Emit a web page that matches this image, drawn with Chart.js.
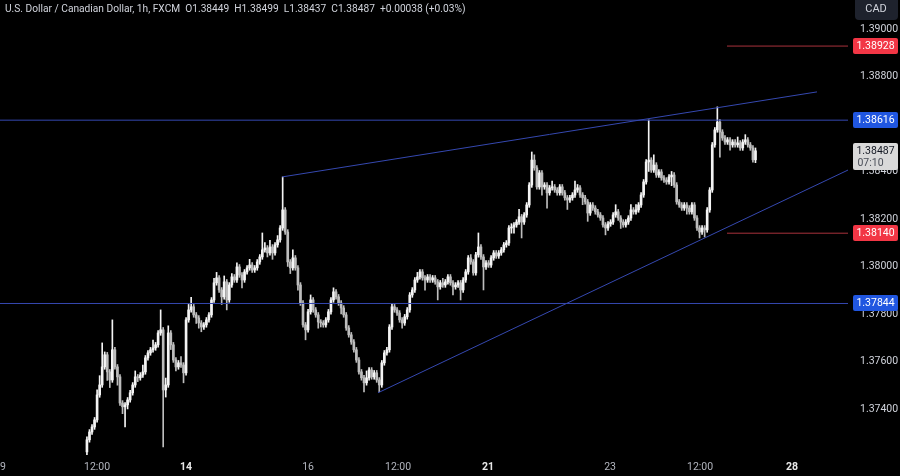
<!DOCTYPE html>
<html>
<head>
<meta charset="utf-8">
<script src="https://cdn.jsdelivr.net/npm/chart.js@4.4.1/dist/chart.umd.min.js"></script>
<style>
  html, body { margin: 0; padding: 0; background: #000; }
  #wrap { position: relative; width: 900px; height: 476px; }
  #title { position: absolute; left: 5px; top: 3px; font: 10.2px Roboto, 'Liberation Sans', sans-serif; color: #d1d4dc; white-space: pre; }
</style>
</head>
<body>
<div id="wrap">
  <canvas id="priceChart" width="900" height="476"></canvas>
  <div id="title">U.S. Dollar / Canadian Dollar, 1h, FXCM  O1.38449  H1.38499  L1.38437  C1.38487  +0.00038 (+0.03%)</div>
</div>
<script>
// hourly USD/CAD candles (x = trading hour from the "9" tick)
const firstHour = 33;

const opens = [
  1.37219, 1.37270, 1.37303, 1.37324, 1.37354, 1.37459, 1.37501, 1.37577, 1.37628, 1.37556, 1.37522, 1.37649,
  1.37577, 1.37535, 1.37425, 1.37409, 1.37417, 1.37438, 1.37468, 1.37501, 1.37535, 1.37531, 1.37543, 1.37556,
  1.37615, 1.37636, 1.37649, 1.37657, 1.37670, 1.37720, 1.37733, 1.37480, 1.37501, 1.37720, 1.37670, 1.37606,
  1.37577, 1.37594, 1.37585, 1.37552, 1.37775, 1.37817, 1.37830, 1.37796, 1.37783, 1.37762, 1.37745, 1.37754,
  1.37775, 1.37796, 1.37859, 1.37931, 1.37952, 1.37901, 1.37872, 1.37935, 1.37859, 1.37922, 1.37956, 1.37943,
  1.37998, 1.37964, 1.37943, 1.37977, 1.37994, 1.38006, 1.37985, 1.37994, 1.38019, 1.38040, 1.38070, 1.38078,
  1.38057, 1.38082, 1.38057, 1.38091, 1.38112, 1.38162, 1.38238, 1.38145, 1.38019, 1.37994, 1.38036, 1.37994,
  1.37922, 1.37846, 1.37754, 1.37733, 1.37809, 1.37859, 1.37817, 1.37796, 1.37766, 1.37762, 1.37754, 1.37775,
  1.37809, 1.37859, 1.37893, 1.37872, 1.37846, 1.37825, 1.37796, 1.37741, 1.37712, 1.37682, 1.37649, 1.37606,
  1.37556, 1.37531, 1.37510, 1.37531, 1.37564, 1.37535, 1.37552, 1.37522, 1.37501, 1.37594, 1.37636, 1.37649,
  1.37745, 1.37830, 1.37817, 1.37804, 1.37775, 1.37762, 1.37788, 1.37817, 1.37880, 1.37901, 1.37943, 1.37956,
  1.37977, 1.37952, 1.37943, 1.37956, 1.37943, 1.37952, 1.37935, 1.37914, 1.37931, 1.37922, 1.37935, 1.37956,
  1.37931, 1.37914, 1.37922, 1.37931, 1.37901, 1.37943, 1.37977, 1.38036, 1.38019, 1.37973, 1.38049, 1.38082,
  1.38040, 1.37998, 1.38015, 1.38006, 1.38036, 1.38057, 1.38044, 1.38057, 1.38070, 1.38091, 1.38099, 1.38162,
  1.38166, 1.38175, 1.38187, 1.38209, 1.38187, 1.38217, 1.38259, 1.38343, 1.38448, 1.38415, 1.38335, 1.38394,
  1.38335, 1.38343, 1.38310, 1.38331, 1.38335, 1.38322, 1.38310, 1.38335, 1.38310, 1.38289, 1.38280, 1.38289,
  1.38301, 1.38322, 1.38331, 1.38301, 1.38289, 1.38272, 1.38225, 1.38259, 1.38246, 1.38230, 1.38217, 1.38204,
  1.38175, 1.38162, 1.38179, 1.38187, 1.38217, 1.38230, 1.38204, 1.38187, 1.38175, 1.38187, 1.38204, 1.38238,
  1.38230, 1.38238, 1.38259, 1.38301, 1.38356, 1.38440, 1.38448, 1.38406, 1.38427, 1.38385, 1.38398, 1.38373,
  1.38364, 1.38356, 1.38377, 1.38385, 1.38343, 1.38272, 1.38259, 1.38246, 1.38259, 1.38246, 1.38230, 1.38259,
  1.38204, 1.38162, 1.38145, 1.38162, 1.38154, 1.38238, 1.38322, 1.38512, 1.38575, 1.38608, 1.38566, 1.38541,
  1.38524, 1.38533, 1.38512, 1.38524, 1.38512, 1.38520, 1.38499, 1.38524, 1.38533, 1.38512, 1.38499, 1.38449
];

const highs = [
  1.37282, 1.37313, 1.37334, 1.37364, 1.37480, 1.37540, 1.37678, 1.37640, 1.37638, 1.37566, 1.37775, 1.37659,
  1.37587, 1.37545, 1.37435, 1.37427, 1.37448, 1.37478, 1.37511, 1.37560, 1.37545, 1.37553, 1.37585, 1.37625,
  1.37646, 1.37659, 1.37690, 1.37680, 1.37730, 1.37817, 1.37743, 1.37530, 1.37750, 1.37730, 1.37680, 1.37616,
  1.37604, 1.37620, 1.37595, 1.37785, 1.37840, 1.37870, 1.37840, 1.37806, 1.37793, 1.37772, 1.37764, 1.37785,
  1.37806, 1.37869, 1.37950, 1.37975, 1.37962, 1.37911, 1.37960, 1.37945, 1.37932, 1.37970, 1.37966, 1.38015,
  1.38008, 1.37974, 1.37987, 1.38004, 1.38030, 1.38016, 1.38004, 1.38029, 1.38050, 1.38141, 1.38100, 1.38088,
  1.38110, 1.38092, 1.38101, 1.38130, 1.38172, 1.38377, 1.38248, 1.38155, 1.38029, 1.38070, 1.38046, 1.38004,
  1.37932, 1.37856, 1.37764, 1.37819, 1.37880, 1.37869, 1.37827, 1.37806, 1.37776, 1.37772, 1.37785, 1.37819,
  1.37869, 1.37910, 1.37903, 1.37882, 1.37856, 1.37835, 1.37806, 1.37751, 1.37722, 1.37692, 1.37659, 1.37616,
  1.37566, 1.37541, 1.37560, 1.37574, 1.37574, 1.37562, 1.37562, 1.37532, 1.37604, 1.37646, 1.37659, 1.37755,
  1.37840, 1.37840, 1.37827, 1.37814, 1.37785, 1.37798, 1.37827, 1.37890, 1.37911, 1.37953, 1.37975, 1.37987,
  1.37987, 1.37962, 1.37966, 1.37966, 1.37962, 1.37962, 1.37945, 1.37941, 1.37950, 1.37945, 1.37966, 1.37966,
  1.37941, 1.37932, 1.37941, 1.37941, 1.37953, 1.37987, 1.38046, 1.38050, 1.38029, 1.38059, 1.38141, 1.38092,
  1.38050, 1.38025, 1.38025, 1.38046, 1.38067, 1.38067, 1.38067, 1.38080, 1.38101, 1.38109, 1.38172, 1.38180,
  1.38185, 1.38197, 1.38240, 1.38219, 1.38227, 1.38269, 1.38353, 1.38482, 1.38470, 1.38425, 1.38404, 1.38404,
  1.38353, 1.38353, 1.38341, 1.38360, 1.38345, 1.38332, 1.38345, 1.38345, 1.38320, 1.38299, 1.38299, 1.38311,
  1.38360, 1.38345, 1.38341, 1.38311, 1.38299, 1.38282, 1.38269, 1.38269, 1.38256, 1.38240, 1.38227, 1.38214,
  1.38185, 1.38189, 1.38197, 1.38227, 1.38260, 1.38240, 1.38214, 1.38197, 1.38197, 1.38214, 1.38260, 1.38248,
  1.38260, 1.38269, 1.38311, 1.38366, 1.38450, 1.38617, 1.38458, 1.38470, 1.38437, 1.38408, 1.38408, 1.38383,
  1.38374, 1.38387, 1.38400, 1.38395, 1.38353, 1.38282, 1.38269, 1.38269, 1.38269, 1.38256, 1.38269, 1.38269,
  1.38214, 1.38172, 1.38172, 1.38172, 1.38248, 1.38332, 1.38522, 1.38585, 1.38672, 1.38618, 1.38576, 1.38551,
  1.38543, 1.38543, 1.38534, 1.38534, 1.38545, 1.38530, 1.38534, 1.38555, 1.38543, 1.38522, 1.38509, 1.38499
];

const lows = [
  1.37194, 1.37260, 1.37293, 1.37314, 1.37344, 1.37449, 1.37491, 1.37567, 1.37520, 1.37490, 1.37512, 1.37567,
  1.37500, 1.37415, 1.37380, 1.37324, 1.37400, 1.37428, 1.37458, 1.37491, 1.37515, 1.37521, 1.37533, 1.37546,
  1.37605, 1.37626, 1.37639, 1.37647, 1.37660, 1.37710, 1.37240, 1.37450, 1.37491, 1.37650, 1.37596, 1.37560,
  1.37567, 1.37575, 1.37510, 1.37542, 1.37765, 1.37807, 1.37786, 1.37760, 1.37740, 1.37725, 1.37735, 1.37744,
  1.37765, 1.37786, 1.37849, 1.37921, 1.37891, 1.37840, 1.37862, 1.37817, 1.37849, 1.37912, 1.37933, 1.37933,
  1.37954, 1.37910, 1.37933, 1.37967, 1.37984, 1.37975, 1.37975, 1.37984, 1.38009, 1.38030, 1.38060, 1.38040,
  1.38047, 1.38030, 1.38047, 1.38081, 1.38102, 1.38152, 1.38135, 1.38000, 1.37970, 1.37984, 1.37984, 1.37900,
  1.37836, 1.37744, 1.37691, 1.37723, 1.37799, 1.37807, 1.37786, 1.37740, 1.37745, 1.37744, 1.37744, 1.37765,
  1.37799, 1.37849, 1.37862, 1.37836, 1.37800, 1.37786, 1.37731, 1.37702, 1.37672, 1.37639, 1.37596, 1.37546,
  1.37521, 1.37472, 1.37500, 1.37521, 1.37525, 1.37525, 1.37512, 1.37472, 1.37491, 1.37584, 1.37626, 1.37639,
  1.37735, 1.37807, 1.37794, 1.37765, 1.37740, 1.37752, 1.37778, 1.37807, 1.37870, 1.37891, 1.37933, 1.37946,
  1.37942, 1.37900, 1.37933, 1.37933, 1.37933, 1.37925, 1.37859, 1.37904, 1.37912, 1.37912, 1.37925, 1.37921,
  1.37880, 1.37904, 1.37912, 1.37859, 1.37891, 1.37933, 1.37967, 1.38009, 1.37963, 1.37963, 1.38039, 1.38030,
  1.37901, 1.37988, 1.37996, 1.37996, 1.38026, 1.38034, 1.38034, 1.38047, 1.38060, 1.38081, 1.38089, 1.38140,
  1.38140, 1.38165, 1.38177, 1.38120, 1.38177, 1.38207, 1.38249, 1.38333, 1.38405, 1.38325, 1.38325, 1.38300,
  1.38325, 1.38245, 1.38300, 1.38321, 1.38312, 1.38300, 1.38300, 1.38300, 1.38279, 1.38240, 1.38270, 1.38279,
  1.38291, 1.38312, 1.38291, 1.38260, 1.38262, 1.38190, 1.38215, 1.38236, 1.38220, 1.38207, 1.38194, 1.38165,
  1.38133, 1.38152, 1.38169, 1.38177, 1.38207, 1.38194, 1.38160, 1.38165, 1.38165, 1.38177, 1.38194, 1.38220,
  1.38220, 1.38228, 1.38249, 1.38291, 1.38346, 1.38400, 1.38396, 1.38396, 1.38375, 1.38375, 1.38363, 1.38354,
  1.38346, 1.38346, 1.38340, 1.38333, 1.38262, 1.38249, 1.38236, 1.38236, 1.38220, 1.38220, 1.38220, 1.38194,
  1.38152, 1.38120, 1.38135, 1.38124, 1.38144, 1.38228, 1.38312, 1.38502, 1.38565, 1.38460, 1.38531, 1.38514,
  1.38514, 1.38490, 1.38502, 1.38502, 1.38502, 1.38489, 1.38489, 1.38514, 1.38502, 1.38489, 1.38439, 1.38437
];

const closes = [
  1.37270, 1.37303, 1.37324, 1.37354, 1.37459, 1.37501, 1.37577, 1.37628, 1.37556, 1.37522, 1.37649, 1.37577,
  1.37535, 1.37425, 1.37409, 1.37417, 1.37438, 1.37468, 1.37501, 1.37535, 1.37531, 1.37543, 1.37556, 1.37615,
  1.37636, 1.37649, 1.37657, 1.37670, 1.37720, 1.37733, 1.37480, 1.37501, 1.37720, 1.37670, 1.37606, 1.37577,
  1.37594, 1.37585, 1.37552, 1.37775, 1.37817, 1.37830, 1.37796, 1.37783, 1.37762, 1.37745, 1.37754, 1.37775,
  1.37796, 1.37859, 1.37931, 1.37952, 1.37901, 1.37872, 1.37935, 1.37859, 1.37922, 1.37956, 1.37943, 1.37998,
  1.37964, 1.37943, 1.37977, 1.37994, 1.38006, 1.37985, 1.37994, 1.38019, 1.38040, 1.38070, 1.38078, 1.38057,
  1.38082, 1.38057, 1.38091, 1.38112, 1.38162, 1.38238, 1.38145, 1.38019, 1.37994, 1.38036, 1.37994, 1.37922,
  1.37846, 1.37754, 1.37733, 1.37809, 1.37859, 1.37817, 1.37796, 1.37766, 1.37762, 1.37754, 1.37775, 1.37809,
  1.37859, 1.37893, 1.37872, 1.37846, 1.37825, 1.37796, 1.37741, 1.37712, 1.37682, 1.37649, 1.37606, 1.37556,
  1.37531, 1.37510, 1.37531, 1.37564, 1.37535, 1.37552, 1.37522, 1.37501, 1.37594, 1.37636, 1.37649, 1.37745,
  1.37830, 1.37817, 1.37804, 1.37775, 1.37762, 1.37788, 1.37817, 1.37880, 1.37901, 1.37943, 1.37956, 1.37977,
  1.37952, 1.37943, 1.37956, 1.37943, 1.37952, 1.37935, 1.37914, 1.37931, 1.37922, 1.37935, 1.37956, 1.37931,
  1.37914, 1.37922, 1.37931, 1.37901, 1.37943, 1.37977, 1.38036, 1.38019, 1.37973, 1.38049, 1.38082, 1.38040,
  1.37998, 1.38015, 1.38006, 1.38036, 1.38057, 1.38044, 1.38057, 1.38070, 1.38091, 1.38099, 1.38162, 1.38166,
  1.38175, 1.38187, 1.38209, 1.38187, 1.38217, 1.38259, 1.38343, 1.38448, 1.38415, 1.38335, 1.38394, 1.38335,
  1.38343, 1.38310, 1.38331, 1.38335, 1.38322, 1.38310, 1.38335, 1.38310, 1.38289, 1.38280, 1.38289, 1.38301,
  1.38322, 1.38331, 1.38301, 1.38289, 1.38272, 1.38225, 1.38259, 1.38246, 1.38230, 1.38217, 1.38204, 1.38175,
  1.38162, 1.38179, 1.38187, 1.38217, 1.38230, 1.38204, 1.38187, 1.38175, 1.38187, 1.38204, 1.38238, 1.38230,
  1.38238, 1.38259, 1.38301, 1.38356, 1.38440, 1.38448, 1.38406, 1.38427, 1.38385, 1.38398, 1.38373, 1.38364,
  1.38356, 1.38377, 1.38385, 1.38343, 1.38272, 1.38259, 1.38246, 1.38259, 1.38246, 1.38230, 1.38259, 1.38204,
  1.38162, 1.38145, 1.38162, 1.38154, 1.38238, 1.38322, 1.38512, 1.38575, 1.38608, 1.38566, 1.38541, 1.38524,
  1.38533, 1.38512, 1.38524, 1.38512, 1.38520, 1.38499, 1.38524, 1.38533, 1.38512, 1.38499, 1.38449, 1.38487
];

// axis ticks
const xTickValues = [0, 37, 72, 120, 155.4, 190.8, 238.8, 274.2, 310.4];
const xTickLabels = ['9', '12:00', '14', '16', '12:00', '21', '23', '12:00', '28'];
const weekStarts = ['14', '21', '28'];
const yTickValues = [1.374, 1.376, 1.378, 1.380, 1.382, 1.384, 1.388, 1.390];

// drawings
const blueLevels = [1.38616, 1.37844];
const redLevels = [1.38928, 1.38140];
const redLevelStart = 284.8;
const upperTrend = [[109.8, 1.38377], [320.2, 1.38735]];
const lowerTrend = [[147.5, 1.37468], [332.4, 1.38406]];
const countdown = '07:10';

const xMin = -1.2, xMax = 332.4;
const yMin = 1.37206, yMax = 1.39122;

const hours = closes.map((c, k) => firstHour + k);
const candleColor = ctx => closes[ctx.dataIndex] >= opens[ctx.dataIndex] ? '#f4f4f4' : '#bdbdbd';

const lineSet = (points, color) => ({
    type: 'line',
    data: points.map(p => ({ x: p[0], y: p[1] })),
    borderColor: color,
    borderWidth: 1,
    pointRadius: 0,
    order: 0
});

const datasets = [
    {
        type: 'bar',
        data: hours.map((h, k) => ({ x: h, y: [lows[k], highs[k]] })),
        backgroundColor: candleColor,
        barThickness: 1,
        grouped: false,
        order: 2
    },
    {
        type: 'bar',
        data: hours.map((h, k) => ({ x: h, y: [opens[k], closes[k]] })),
        backgroundColor: candleColor,
        barThickness: 2,
        minBarLength: 1,
        grouped: false,
        order: 1
    }
];
blueLevels.forEach(v => datasets.push(lineSet([[xMin, v], [xMax, v]], '#3548b0')));
redLevels.forEach(v => datasets.push(lineSet([[redLevelStart, v], [xMax, v]], '#a8323c')));
datasets.push(lineSet(upperTrend, '#3548b0'));
datasets.push(lineSet(lowerTrend, '#3548b0'));

// price tags on the right scale
const axisTags = {
    id: 'axisTags',
    afterDraw(chart) {
        const { ctx, chartArea } = chart;
        const y = chart.scales.y;
        const left = chartArea.right + 5, w = 45;
        ctx.save();
        ctx.font = '10.5px Roboto';
        ctx.textAlign = 'center';
        ctx.textBaseline = 'middle';
        const tag = (price, bg, fg) => {
            const py = Math.round(y.getPixelForValue(price));
            ctx.fillStyle = bg;
            ctx.beginPath();
            ctx.roundRect(left, py - 8, w, 16, 2);
            ctx.fill();
            ctx.fillStyle = fg;
            ctx.fillText(price.toFixed(5), left + w / 2, py + 0.5);
        };
        redLevels.forEach(v => tag(v, '#f23645', '#ffffff'));
        blueLevels.forEach(v => tag(v, '#2056e0', '#ffffff'));

        // last price with bar countdown
        const last = closes[closes.length - 1];
        const ly = Math.round(y.getPixelForValue(last));
        ctx.fillStyle = '#d9d9d9';
        ctx.beginPath();
        ctx.roundRect(left, ly - 8, w, 27, 2);
        ctx.fill();
        ctx.fillStyle = '#131722';
        ctx.fillText(last.toFixed(5), left + w / 2, ly + 0.5);
        ctx.fillStyle = '#4a4e58';
        ctx.fillText(countdown, left + w / 2 - 5, ly + 12);

        // currency button
        ctx.fillStyle = '#1e222d';
        ctx.beginPath();
        ctx.roundRect(855, -4, 43, 24, 4);
        ctx.fill();
        ctx.fillStyle = '#d1d4dc';
        ctx.font = '11px Roboto';
        ctx.fillText('CAD', 876, 9);
        ctx.restore();
    }
};

const ctx = document.getElementById('priceChart').getContext('2d');
new Chart(ctx, {
    type: 'bar',
    data: { datasets: datasets },
    options: {
        responsive: false,
        animation: false,
        devicePixelRatio: 1,
        layout: { padding: 0 },
        plugins: { legend: { display: false }, tooltip: { enabled: false } },
        scales: {
            x: {
                type: 'linear',
                min: xMin,
                max: xMax,
                offset: false,
                grid: { display: false, drawTicks: false },
                border: { display: false },
                afterBuildTicks: s => { s.ticks = xTickValues.map(v => ({ value: v })); },
                afterFit: s => { s.height = 21; s.paddingLeft = 0; s.paddingRight = 0; },
                ticks: {
                    autoSkip: false,
                    maxRotation: 0,
                    padding: 6,
                    callback: v => xTickLabels[xTickValues.indexOf(v)],
                    color: c => weekStarts.includes(c.tick && c.tick.label) ? '#e8e8e8' : '#b2b5be',
                    font: c => ({ family: 'Roboto', size: 10.5, weight: weekStarts.includes(c.tick && c.tick.label) ? 'bold' : 'normal' })
                }
            },
            y: {
                type: 'linear',
                position: 'right',
                min: yMin,
                max: yMax,
                grid: { display: false, drawTicks: false },
                border: { display: false },
                afterBuildTicks: s => { s.ticks = yTickValues.map(v => ({ value: v })); },
                afterFit: s => { s.width = 52; s.paddingTop = 0; s.paddingBottom = 0; },
                ticks: {
                    padding: 12,
                    color: '#d1d4dc',
                    font: { family: 'Roboto', size: 10.5 },
                    callback: v => v.toFixed(5)
                }
            }
        }
    },
    plugins: [axisTags]
});
</script>
</body>
</html>
